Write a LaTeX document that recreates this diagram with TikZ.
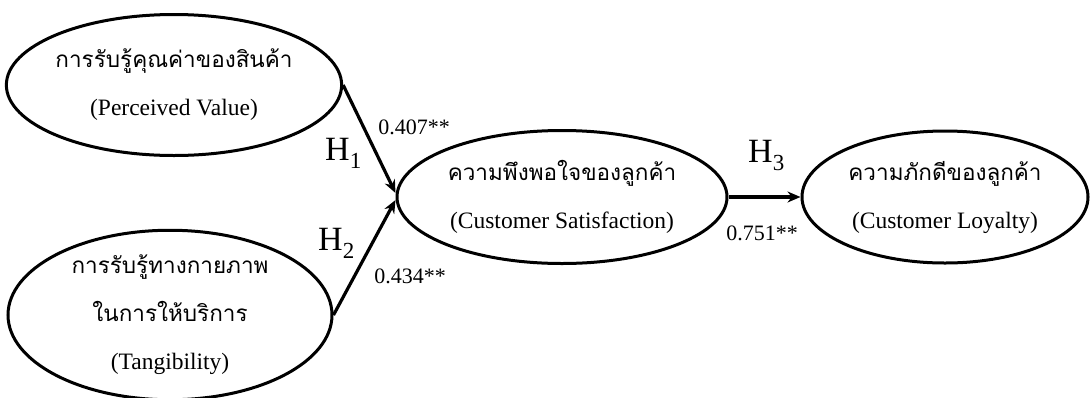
\documentclass[tikz,border=0pt]{standalone}
\usepackage{fontspec}
\setmainfont{Liberation Serif}
\newfontfamily\thai[Script=Thai]{Loma}
\usetikzlibrary{arrows.meta,shapes.geometric}
\newcommand{\thtxt}[1]{{\thai\fontsize{22.5}{24}\selectfont #1}}
\newcommand{\hyplabel}[1]{{\fontsize{34}{36}\selectfont H}\raisebox{-8pt}{\fontsize{23}{24}\selectfont #1}}
\begin{document}
\begin{tikzpicture}[x=1pt,y=-1pt,
  construct/.style={draw,ellipse,line width=3pt,inner sep=0pt,align=center,
    font=\fontsize{23.5}{48}\selectfont},
  link/.style={line width=3.2pt,-{Stealth[length=13pt,width=11pt]}},
  hyp/.style={anchor=base west,inner sep=0pt},
  coef/.style={font=\fontsize{22}{24}\selectfont,inner sep=0pt}]
\useasboundingbox (0,0) rectangle (1092,397);
\node[construct,minimum width=322pt,minimum height=141pt] (pv) at (174,85)
  {\thtxt{การรับรู้คุณค่าของสินค้า}\\(Perceived Value)};
\node[construct,minimum width=324pt,minimum height=164pt] (tg) at (170,315)
  {\thtxt{การรับรู้ทางกายภาพ}\\\thtxt{ในการให้บริการ}\\(Tangibility)};
\node[construct,minimum width=330pt,minimum height=133pt] (cs) at (562,197)
  {\thtxt{ความพึงพอใจของลูกค้า}\\(Customer Satisfaction)};
\node[construct,minimum width=286pt,minimum height=132pt] (cl) at (945,197)
  {\thtxt{ความภักดีของลูกค้า}\\(Customer Loyalty)};
\draw[link] (pv.east) -- ([yshift=4pt]cs.west);
\draw[link] (tg.east) -- ([yshift=-3pt]cs.west);
\draw[link] (cs.east) -- (cl.west);
\node[hyp] (h1) at (325,160) {\hyplabel{1}};
\node[hyp] (h2) at (318,250) {\hyplabel{2}};
\node[hyp] (h3) at (748,162) {\hyplabel{3}};
\node[coef] (c1) at (414,127) {0.407**};
\node[coef] (c2) at (410,276) {0.434**};
\node[coef] (c3) at (762,233) {0.751**};
\end{tikzpicture}
\end{document}
